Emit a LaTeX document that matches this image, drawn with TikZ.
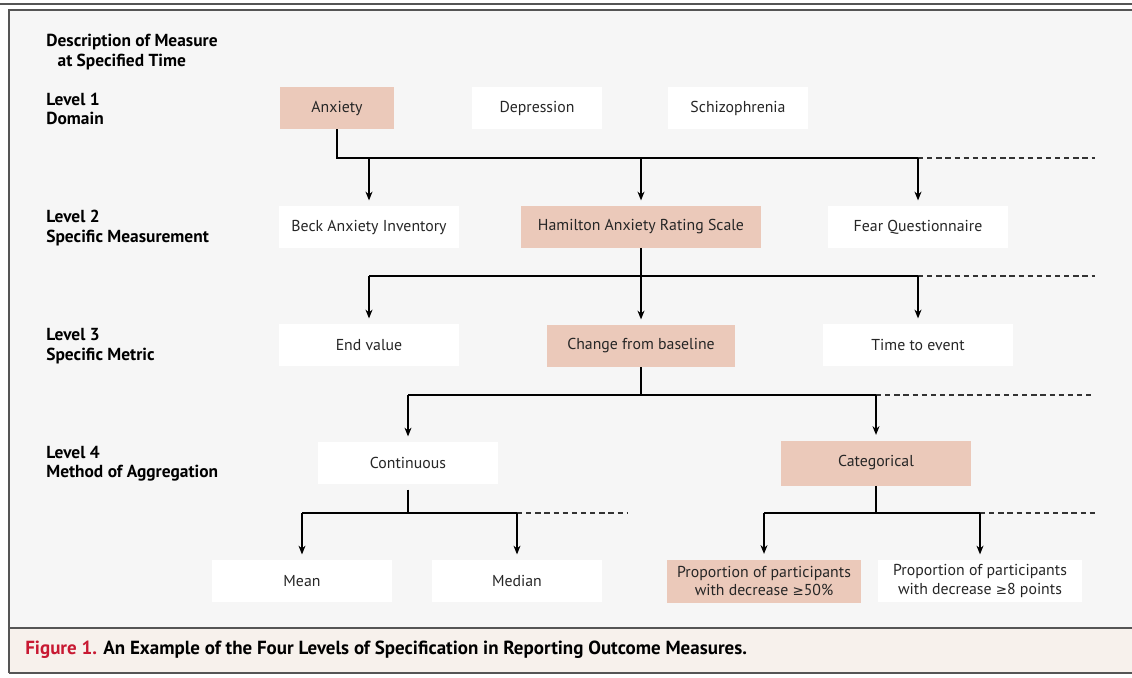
\documentclass[tikz,border=0pt]{standalone}
\usepackage{fontspec}
\setmainfont{PT Sans}
\newfontfamily\symf{DejaVu Sans}[Scale=0.85]
\usetikzlibrary{arrows.meta}
\definecolor{bgc}{RGB}{246,246,246}
\definecolor{hlc}{RGB}{235,201,186}
\definecolor{capbg}{RGB}{247,241,236}
\definecolor{figred}{RGB}{200,25,50}
\definecolor{framec}{RGB}{85,85,85}
\begin{document}
\begin{tikzpicture}[x=0.02cm,y=-0.02cm,
  txt/.style={font=\fontsize{9}{10.5}\selectfont, text=black!85, align=center, inner sep=0pt, minimum height=0.84cm},
  plain/.style={txt, fill=white},
  hl/.style={txt, fill=hlc},
  lvl/.style={font=\fontsize{9.9}{11}\selectfont\bfseries, align=left, anchor=west, inner sep=0pt},
  conn/.style={line width=0.7pt, black},
  arr/.style={conn, -{Stealth[length=5pt,width=4pt]}, shorten >=3pt},
  dsh/.style={conn, dashed, dash pattern=on 3pt off 2.2pt, black!80}]
\useasboundingbox (0,0) rectangle (1132,677);
\fill[white] (0,0) rectangle (1132,677);
\fill[bgc] (9,10) rectangle (1132,628);
\fill[capbg] (9,628) rectangle (1132,673);
\draw[framec, line width=0.9pt] (0,4) -- (1132,4);
\draw[framec, line width=0.9pt] (9,673) -- (9,10) -- (1132,10);
\draw[framec, line width=1.2pt] (9,628) -- (1132,628);
\draw[framec, line width=1.2pt] (9,673) -- (1132,673);

% level labels
\node[lvl] (desc) at (46,52) {Description of Measure\\\hspace{0.65em}at Specified Time};
\node[lvl] (l1) at (46,109) {Level 1\\Domain};
\node[lvl] (l2) at (46,228) {Level 2\\Specific Measurement};
\node[lvl] (l3) at (46,346) {Level 3\\Specific Metric};
\node[lvl] (l4) at (46,464) {Level 4\\Method of Aggregation};

% level 1
\node[hl, minimum width=2.3cm] (anx) at (337,108) {Anxiety};
\node[plain, minimum width=2.6cm] (dep) at (537,108) {Depression};
\node[plain, minimum width=2.8cm] (sch) at (738,108) {Schizophrenia};

% level 2
\node[plain, minimum width=3.6cm] (beck) at (369,227) {Beck Anxiety Inventory};
\node[hl, minimum width=4.82cm] (ham) at (641,227) {Hamilton Anxiety Rating Scale};
\node[plain, minimum width=3.6cm] (fear) at (918,227) {Fear Questionnaire};

% level 3
\node[plain, minimum width=3.6cm] (endv) at (369,345) {End value};
\node[hl, minimum width=3.78cm] (chg) at (641,346) {Change from baseline};
\node[plain, minimum width=3.8cm] (tte) at (918,345) {Time to event};

% level 4
\node[plain, minimum width=3.6cm] (cont) at (408,463) {Continuous};
\node[hl, minimum width=3.82cm, minimum height=0.9cm] (cat) at (876,463) {Categorical};

% level 5
\node[plain, minimum width=3.6cm] (mean) at (302,581) {Mean};
\node[plain, minimum width=3.4cm] (med) at (517,581) {Median};
\node[hl, minimum width=3.9cm, minimum height=0.86cm] (p50) at (764,581) {Proportion of participants\\with decrease {\symf ≥}50\%};
\node[plain, minimum width=4.1cm] (p8) at (980,581) {Proportion of participants\\with decrease {\symf ≥}8 points};

% connectors level 1 -> 2
\coordinate (a1) at (337,158);
\coordinate (a1e) at (918,158);
\coordinate (a1d) at (1095,158);
\draw[conn] (anx.south) -- (a1) -- (a1e);
\draw[dsh] (a1e) -- (a1d);
\draw[arr] (beck.north |- a1) -- (beck.north);
\draw[arr] (ham.north |- a1) -- (ham.north);
\draw[arr] (fear.north |- a1) -- (fear.north);

% level 2 -> 3
\coordinate (a2) at (641,276);
\coordinate (a2s) at (369,276);
\coordinate (a2e) at (918,276);
\coordinate (a2d) at (1095,276);
\draw[conn] (ham.south) -- (a2);
\draw[conn] (a2s) -- (a2e);
\draw[dsh] (a2e) -- (a2d);
\draw[arr] (a2s) -- (endv.north);
\draw[arr] (a2) -- (chg.north);
\draw[arr] (a2e) -- (tte.north);

% level 3 -> 4
\coordinate (a3) at (641,395);
\coordinate (a3s) at (408,395);
\coordinate (a3e) at (876,395);
\coordinate (a3d) at (1095,395);
\draw[conn] (chg.south) -- (a3);
\draw[conn] (a3s) -- (a3e);
\draw[dsh] (a3e) -- (a3d);
\draw[arr] (a3s) -- (cont.north);
\draw[arr] (a3e) -- (cat.north);

% level 4 -> 5 (continuous)
\coordinate (a4) at (408,513);
\coordinate (a4s) at (302,513);
\coordinate (a4e) at (517,513);
\coordinate (a4d) at (628,513);
\draw[conn] ([yshift=-3pt]cont.south) -- (a4);
\draw[conn] (a4s) -- (a4e);
\draw[dsh] (a4e) -- (a4d);
\draw[arr] (a4s) -- (mean.north);
\draw[arr] (a4e) -- (med.north);

% level 4 -> 5 (categorical)
\coordinate (a5) at (876,513);
\coordinate (a5s) at (764,513);
\coordinate (a5e) at (980,513);
\coordinate (a5d) at (1095,513);
\draw[conn] (cat.south) -- (a5);
\draw[conn] (a5s) -- (a5e);
\draw[dsh] (a5e) -- (a5d);
\draw[arr] (a5s) -- (p50.north);
\draw[arr] (a5e) -- (p8.north);

% caption
\node[anchor=west, inner sep=0pt, font=\fontsize{10.8}{12}\selectfont\bfseries] (cap) at (25,650)
  {\textcolor{figred}{Figure 1.} An Example of the Four Levels of Specification in Reporting Outcome Measures.};
\end{tikzpicture}
\end{document}
